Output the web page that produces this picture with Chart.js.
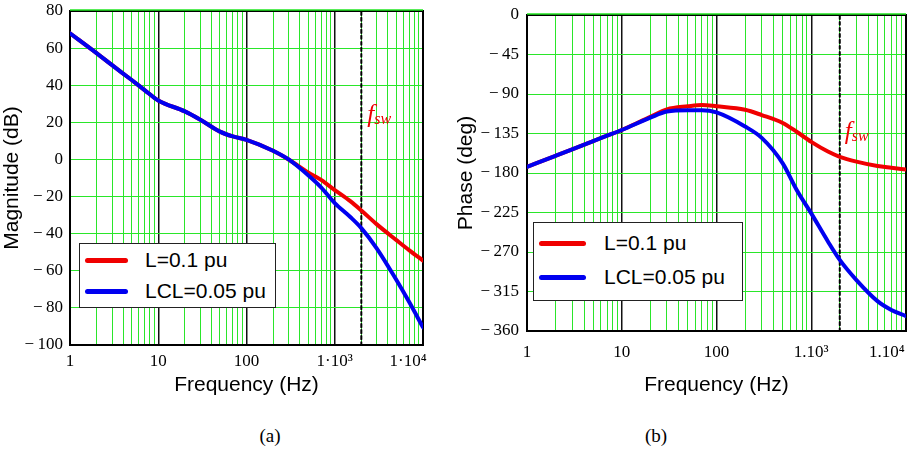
<!DOCTYPE html>
<html>
<head>
<meta charset="utf-8">
<script src="https://cdn.jsdelivr.net/npm/chart.js@4.4.1/dist/chart.umd.min.js"></script>
<style>
body{margin:0;background:#fff;width:908px;height:454px;position:relative;overflow:hidden;font-family:"Liberation Sans",Arial,sans-serif}
canvas{position:absolute;top:0}
.legend{position:absolute;background:#fff;border:1.5px solid #222;box-sizing:border-box}
.row{position:absolute;left:0;right:0;height:30px;font-size:21px;line-height:30px;color:#000}
.row span{position:absolute}
.row i{position:absolute;height:5px;border-radius:3px;top:13px}
.cap{position:absolute;top:425px;font:19px "Liberation Serif",serif;transform:translateX(-50%)}
</style>
</head>
<body>
<canvas id="magChart" width="440" height="400" style="left:0"></canvas>
<canvas id="phaseChart" width="454" height="400" style="left:454px"></canvas>
<div class="cap" style="left:270px">(a)</div>
<div class="cap" style="left:656px">(b)</div>
<script>
// frequency points (Hz)
const freq = [1,2,3,5,7,10,20,30,50,70,100,200,300,500,700,1000,1500,2000,3000,5000,7000,10000];
// magnitude (dB)
const magL   = [68,57.3,50.8,42.8,37.4,31.8,25.9,21.4,15,12.4,10.6,4.7,0,-7,-11,-16.5,-22.5,-27.5,-35,-43.5,-49,-54.5];
const magLCL = [68,57.3,50.8,42.8,37.4,31.8,25.9,21.4,15,12.4,10.6,4.7,0,-8.5,-15,-23.5,-31,-37,-48,-65,-77,-90.5];
// phase (deg)
const phL   = [-173,-160.4,-153,-143.6,-137.5,-131,-116,-107.5,-104,-102.5,-104,-108,-114,-123,-133,-144.5,-155.5,-161.5,-167,-172,-174,-176];
const phLCL = [-173,-160.4,-153,-143.6,-137.5,-131,-117,-110,-108.5,-108.5,-111,-127,-140,-169,-199,-226,-258,-279,-302,-326,-336,-343];

const fsw = 2000;
const seriesNames = ['L=0.1 pu', 'LCL=0.05 pu'];
const seriesColors = ['#f00000', '#0000f0'];
const magRange = [-100, 80], magStep = 20;
const phRange = [-360, 0], phStep = 45;
const decadeLabelsA = {1:'1', 10:'10', 100:'100', 1000:'1\u00b710\u00b3', 10000:'1\u00b710\u2074' + '\u00a0'.repeat(7)};
const decadeLabelsB = {1:'1', 10:'10', 100:'100', 1000:'1.10\u00b3', 10000:'1.10\u2074' + '\u00a0'.repeat(9)};
const serif = "'Liberation Serif', 'Times New Roman', serif";
const sans = "'Liberation Sans', Arial, sans-serif";

function pts(ys){ return freq.map((f,i) => ({x:f, y:ys[i]})); }
function isDecade(v){ const l = Math.log10(v); return Math.abs(l - Math.round(l)) < 1e-9; }

const framePlugin = {
  id: 'frame',
  beforeDatasetsDraw(chart){
    const {ctx, chartArea:a} = chart;
    ctx.save();
    ctx.strokeStyle = '#000'; ctx.lineWidth = 2;
    ctx.strokeRect(a.left, a.top, a.right - a.left, a.bottom - a.top);
    ctx.strokeStyle = '#22e622'; ctx.lineWidth = 1.5;
    ctx.beginPath(); ctx.moveTo(a.left, a.top - 1); ctx.lineTo(a.right, a.top - 1); ctx.stroke();
    ctx.restore();
  },
  afterDatasetsDraw(chart, args, opts){
    const {ctx, scales} = chart;
    const x = scales.x.getPixelForValue(fsw) + opts.dx;
    const y = scales.y.getPixelForValue(opts.labelY);
    ctx.save();
    ctx.fillStyle = '#ee0000';
    ctx.textBaseline = 'alphabetic';
    ctx.font = 'italic 25px ' + serif;
    ctx.fillText('f', x, y);
    const w = ctx.measureText('f').width;
    ctx.font = 'italic 16px ' + serif;
    ctx.fillText('sw', x + w, y + 2);
    ctx.restore();
  }
};

function makeChart(id, o){
  const ds = [
    {label: seriesNames[1], data: pts(o.ys[1]), borderColor: seriesColors[1], borderWidth: 4, order: 1},
    {label: seriesNames[0], data: pts(o.ys[0]), borderColor: seriesColors[0], borderWidth: 4, order: 2},
    {label: 'fsw', data: [{x:fsw, y:o.range[0]}, {x:fsw, y:o.range[1]}], borderColor: '#000', borderWidth: 2, borderDash: [3,3], order: 3}
  ];
  return new Chart(document.getElementById(id), {
    type: 'line',
    data: {datasets: ds},
    options: {
      responsive: false, animation: false, devicePixelRatio: 1,
      layout: {padding: o.pad},
      elements: {point: {radius: 0}, line: {cubicInterpolationMode: 'monotone', borderCapStyle: 'round'}},
      plugins: {legend: {display: false}, tooltip: {enabled: false}, frame: {dx: o.fdx, labelY: o.fy}},
      scales: {
        x: {
          type: 'logarithmic', min: 1, max: 10000,
          afterBuildTicks: s => {
            const t = [];
            for (let d = 1; d <= 1000; d *= 10) for (let k = 1; k < 10; k++) t.push({value: k * d});
            t.push({value: 10000});
            s.ticks = t;
          },
          afterFit: s => { s.height = o.xh; s.paddingLeft = 0; s.paddingRight = 0; },
          ticks: {autoSkip: false, maxRotation: 0, padding: o.xpad, color: '#000',
                  font: {family: serif, size: 17},
                  callback: v => o.labels[v] || ''},
          grid: {drawTicks: false, color: c => isDecade(c.tick.value) ? '#111' : '#2ae62a',
                 lineWidth: c => isDecade(c.tick.value) ? 1.5 : 1},
          border: {display: false},
          title: {display: true, text: 'Frequency (Hz)', color: '#000',
                  font: {family: sans, size: 21}, padding: {top: 0, bottom: 2}}
        },
        y: {
          min: o.range[0], max: o.range[1],
          afterFit: s => { s.width = o.yw; s.paddingTop = 0; s.paddingBottom = 0; },
          ticks: {stepSize: o.step, padding: o.ypad, color: '#000',
                  font: {family: serif, size: 17},
                  callback: v => v < 0 ? '\u2212\u2009' + (-v) : '' + v},
          grid: {drawTicks: false, color: '#2ae62a', lineWidth: 1},
          border: {display: false},
          title: {display: true, text: o.ytitle, color: '#000',
                  font: {family: sans, size: 21, lineHeight: 1.2}, padding: {top: 0, bottom: 0}}
        }
      }
    },
    plugins: [framePlugin]
  });
}

makeChart('magChart', {ys: [magL, magLCL], range: magRange, step: magStep, labels: decadeLabelsA,
  pad: {top: 11, right: 17, left: 0, bottom: 0}, xh: 55, yw: 70, xpad: 6, ypad: 7,
  ytitle: 'Magnitude (dB)', fdx: 6, fy: 20});
makeChart('phaseChart', {ys: [phL, phLCL], range: phRange, step: phStep, labels: decadeLabelsB,
  pad: {top: 15, right: 2, left: 0, bottom: 0}, xh: 69, yw: 73, xpad: 11, ypad: 8,
  ytitle: 'Phase (deg)', fdx: 5, fy: -141});

// legends drawn as html boxes inside the plots
function legend(box){
  const el = document.createElement('div');
  el.className = 'legend';
  Object.assign(el.style, {left: box.x + 'px', top: box.y + 'px', width: box.w + 'px', height: box.h + 'px'});
  seriesNames.forEach((name, i) => {
    const r = document.createElement('div');
    r.className = 'row';
    r.style.top = (box.rows[i] - 15) + 'px';
    r.innerHTML = '<i style="left:' + box.sx + 'px;width:' + box.sw + 'px;background:' + seriesColors[i] + '"></i>' +
                  '<span style="left:' + box.tx + 'px">' + name + '</span>';
    el.appendChild(r);
  });
  document.body.appendChild(el);
}
legend({x: 79, y: 243, w: 197, h: 65, rows: [16, 47], sx: 5, sw: 43, tx: 65});
legend({x: 533, y: 222, w: 210, h: 79, rows: [20, 54], sx: 5, sw: 47, tx: 70});
</script>
</body>
</html>
